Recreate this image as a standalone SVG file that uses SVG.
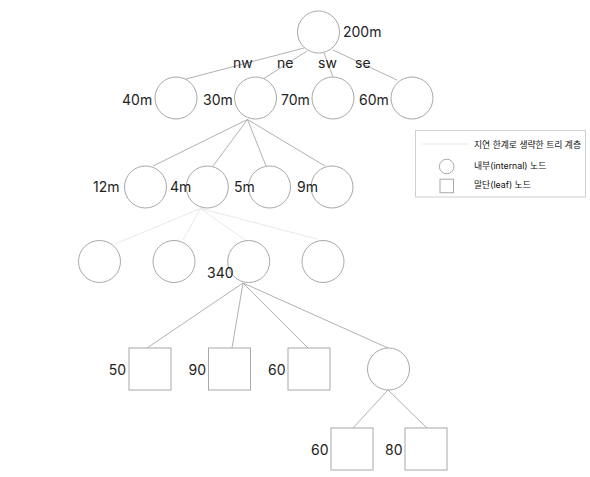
<svg xmlns="http://www.w3.org/2000/svg" width="590" height="477" viewBox="0 0 590 477">
<style>
.n{fill:#fff;stroke:#a8a8a8;stroke-width:1}
.e{stroke:#a8a8a8;stroke-width:0.9;fill:none}
.f{stroke:#e6e6e6;stroke-width:0.9;fill:none}
.t{font-family:Inter,"Noto Sans","Noto Sans CJK KR",sans-serif;font-size:14px;fill:#222}
.l{font-family:Inter,"Noto Sans","Noto Sans CJK KR",sans-serif;font-size:8.8px;fill:#111}
</style>
<rect width="590" height="477" fill="#fff"/>
<g id="connectors">
<line class="e" x1="304" y1="48" x2="186" y2="79"/>
<line class="e" x1="307" y1="51" x2="263" y2="79"/>
<line class="e" x1="324" y1="53" x2="333" y2="77"/>
<line class="e" x1="333" y1="50" x2="397" y2="80"/>
<line class="e" x1="247.5" y1="119.5" x2="153" y2="166"/>
<line class="e" x1="247.5" y1="119.5" x2="213" y2="166"/>
<line class="e" x1="247.5" y1="119.5" x2="266" y2="166"/>
<line class="e" x1="247.5" y1="119.5" x2="325" y2="166"/>
<line class="f" x1="200.5" y1="208.5" x2="115" y2="244"/>
<line class="f" x1="200.5" y1="208.5" x2="183" y2="240"/>
<line class="f" x1="200.5" y1="208.5" x2="245" y2="240"/>
<line class="f" x1="200.5" y1="208.5" x2="317" y2="239"/>
<line class="e" x1="243" y1="283" x2="147" y2="348"/>
<line class="e" x1="243" y1="283" x2="232" y2="348"/>
<line class="e" x1="243" y1="283" x2="308" y2="348"/>
<line class="e" x1="243" y1="283" x2="388" y2="348"/>
<line class="e" x1="388" y1="390" x2="353" y2="428"/>
<line class="e" x1="388" y1="390" x2="427" y2="428"/>
</g>
<g id="edge-labels">
<text class="t" x="233" y="67.5">nw</text>
<text class="t" x="277" y="67.5">ne</text>
<text class="t" x="318" y="67.5">sw</text>
<text class="t" x="355" y="67.5">se</text>
</g>
<g id="root"><circle class="n" cx="318.5" cy="32" r="21"/><text class="t" x="343" y="36.5">200m</text></g>
<g id="nw"><circle class="n" cx="176" cy="98" r="21"/><text class="t" x="122" y="105">40m</text></g>
<g id="ne"><circle class="n" cx="255.5" cy="98" r="21"/><text class="t" x="203" y="105">30m</text></g>
<g id="sw"><circle class="n" cx="333" cy="98" r="21"/><text class="t" x="281" y="105">70m</text></g>
<g id="se"><circle class="n" cx="412" cy="98" r="21"/><text class="t" x="359" y="105">60m</text></g>
<g id="ne-nw"><circle class="n" cx="145.5" cy="187" r="21"/><text class="t" x="93" y="192.3">12m</text></g>
<g id="ne-ne"><circle class="n" cx="207.3" cy="187" r="21"/><text class="t" x="170" y="192.3">4m</text></g>
<g id="ne-sw"><circle class="n" cx="269.5" cy="187" r="21"/><text class="t" x="234" y="192.3">5m</text></g>
<g id="ne-se"><circle class="n" cx="332" cy="187" r="21"/><text class="t" x="297" y="192.3">9m</text></g>
<g id="l3a"><circle class="n" cx="99.5" cy="261.5" r="21"/></g>
<g id="l3b"><circle class="n" cx="174" cy="261.5" r="21"/></g>
<g id="l3c"><circle class="n" cx="248.7" cy="261.5" r="21"/><text class="t" x="207" y="278">340</text></g>
<g id="l3d"><circle class="n" cx="323" cy="261.5" r="21"/></g>
<g id="leaf50"><rect class="n" x="129" y="348" width="42" height="42"/><text class="t" x="126" y="375" text-anchor="end">50</text></g>
<g id="leaf90"><rect class="n" x="208.5" y="348" width="42" height="42"/><text class="t" x="206" y="375" text-anchor="end">90</text></g>
<g id="leaf60a"><rect class="n" x="288" y="348" width="42" height="42"/><text class="t" x="285.5" y="375" text-anchor="end">60</text></g>
<g id="l4d"><circle class="n" cx="388.5" cy="369" r="21"/></g>
<g id="leaf60b"><rect class="n" x="331" y="428" width="42" height="42"/><text class="t" x="328.5" y="455" text-anchor="end">60</text></g>
<g id="leaf80"><rect class="n" x="405" y="428" width="42" height="42"/><text class="t" x="402.5" y="455" text-anchor="end">80</text></g>
<g id="legend">
<rect x="415.5" y="130.5" width="170" height="66.5" fill="#fff" stroke="#cfcfcf" stroke-width="1"/>
<line x1="422" y1="144" x2="468" y2="144" stroke="#e6e6e6" stroke-width="0.9"/>
<text class="l" x="474" y="147.5">지연 한계로 생략한 트리 계층</text>
<circle class="n" cx="446.7" cy="166.5" r="7.3"/>
<text class="l" x="474" y="168.5">내부(internal) 노드</text>
<rect class="n" x="440" y="179.2" width="13.5" height="13.5"/>
<text class="l" x="474" y="188">말단(leaf) 노드</text>
</g>
</svg>
